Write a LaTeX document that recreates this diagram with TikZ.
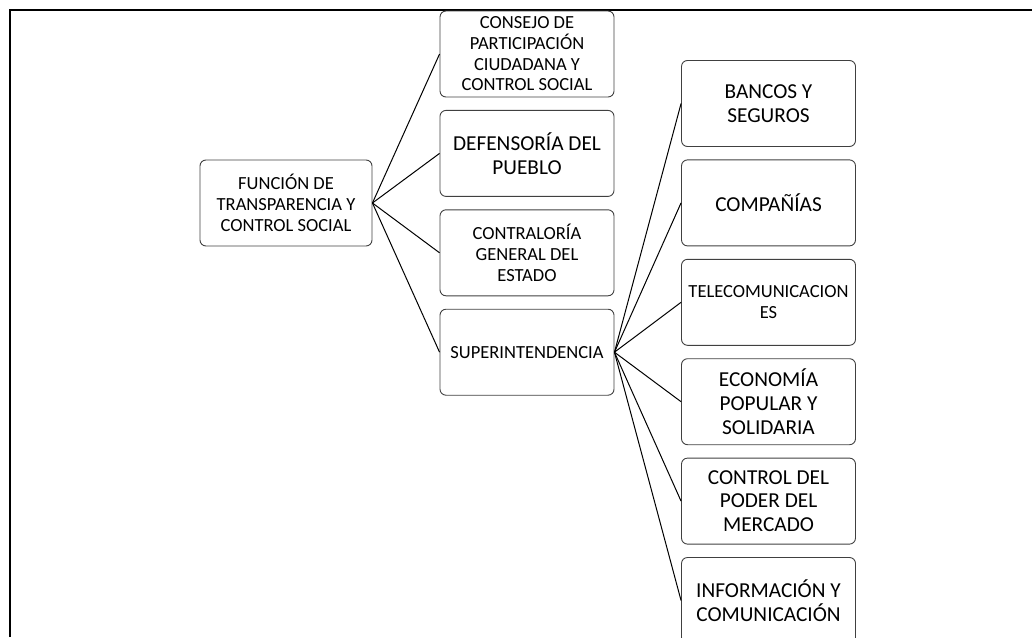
\documentclass[tikz,border=0pt]{standalone}
\usepackage{fontspec}
\setmainfont{Carlito}
\usetikzlibrary{positioning}

\begin{document}
\begin{tikzpicture}[x=1pt,y=1pt,node distance=12.5pt,box/.style={draw=black!75,line width=0.9pt,rounded corners=6pt,minimum width=174pt,minimum height=86pt,align=center,inner sep=2pt,font=\fontsize{18.5}{20.7}\selectfont}, bigbox/.style={box,font=\fontsize{21.3}{23.6}\selectfont}, link/.style={line width=1pt}, frame/.style={line width=2pt}]
        \useasboundingbox (0,0) rectangle (1032,-637);
        \draw[frame] (10,-637) -- (10,-10) -- (1032,-10);
        
        \node[box,minimum width=172pt] (fts) at (286,-203) {FUNCIÓN DE\\TRANSPARENCIA Y\\CONTROL SOCIAL};
        
        \node[box] (cpccs) at (527,-54) {CONSEJO DE\\PARTICIPACIÓN\\CIUDADANA Y\\CONTROL SOCIAL};
        \node[bigbox] (dp) [below = of cpccs] {DEFENSORÍA DEL\\PUEBLO};
        \node[box] (cge) [below = of dp] {CONTRALORÍA\\GENERAL DEL\\ESTADO};
        \node[box] (sup) [below = of cge] {SUPERINTENDENCIA};
        
        \node[bigbox] (bys) at (768.5,-103.5) {BANCOS Y\\SEGUROS};
        \node[bigbox] (cia) [below = of bys] {COMPAÑÍAS};
        \node[box] (tel) [below = of cia] {TELECOMUNICACION\\ES};
        \node[bigbox] (eps) [below = of tel] {ECONOMÍA\\POPULAR Y\\SOLIDARIA};
        \node[bigbox] (cpm) [below = of eps] {CONTROL DEL\\PODER DEL\\MERCADO};
        \node[bigbox] (inf) [below = of cpm] {INFORMACIÓN Y\\COMUNICACIÓN};
        
        \path (fts.east) edge[link] (cpccs.west);
        \path (fts.east) edge[link] (dp.west);
        \path (fts.east) edge[link] (cge.west);
        \path (fts.east) edge[link] (sup.west);
        
        \path (sup.east) edge[link] (bys.west);
        \path (sup.east) edge[link] (cia.west);
        \path (sup.east) edge[link] (tel.west);
        \path (sup.east) edge[link] (eps.west);
        \path (sup.east) edge[link] (cpm.west);
        \path (sup.east) edge[link] (inf.west);
    \end{tikzpicture}
\end{document}
